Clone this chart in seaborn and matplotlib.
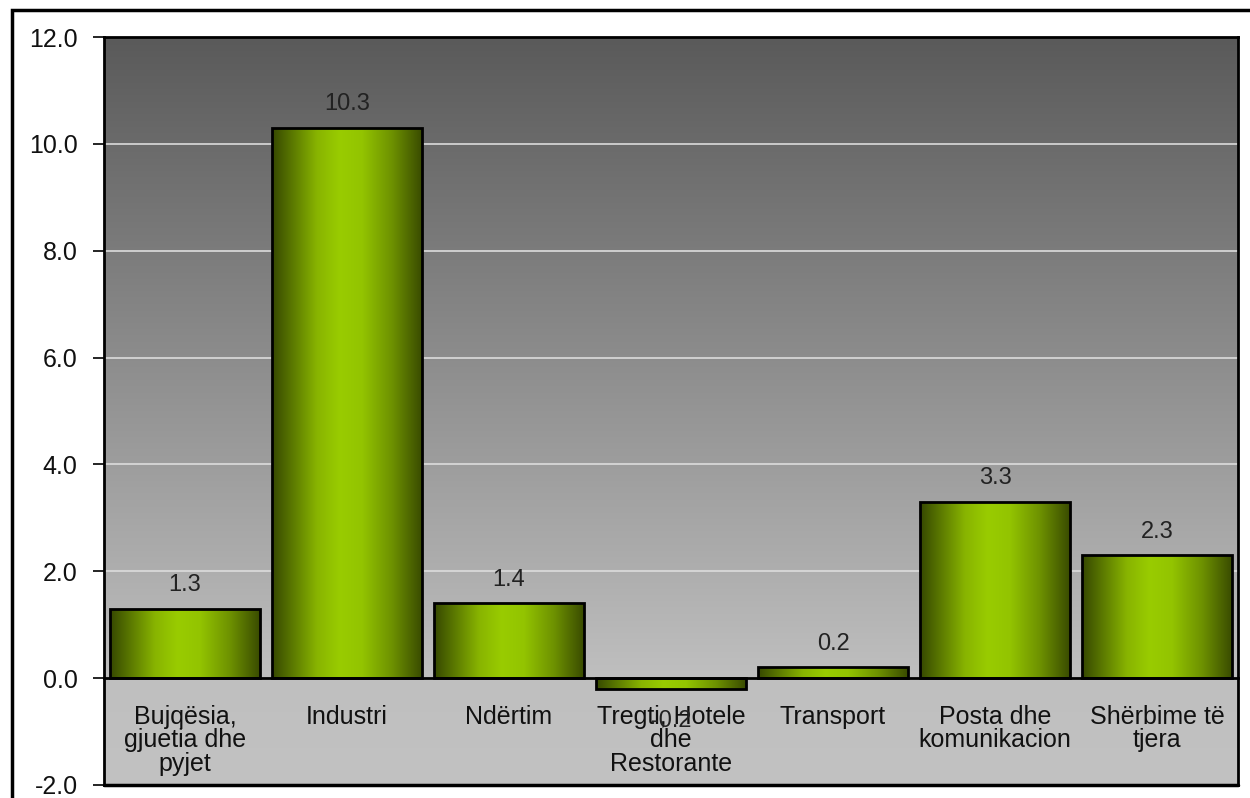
import numpy as np
import pandas as pd
import matplotlib
matplotlib.use('Agg')
import matplotlib.pyplot as plt
from matplotlib.colors import LinearSegmentedColormap
from matplotlib.patches import Rectangle
from matplotlib.ticker import FixedLocator
import seaborn as sns

# data
sectors = ['Bujqësia,\ngjuetia dhe\npyjet', 'Industri', 'Ndërtim',
           'Tregti, Hotele\ndhe\nRestorante', 'Transport',
           'Posta dhe\nkomunikacion', 'Shërbime të\ntjera']
growth = [1.3, 10.3, 1.4, -0.2, 0.2, 3.3, 2.3]
yticks = [-2.0, 0.0, 2.0, 4.0, 6.0, 8.0, 10.0, 12.0]

sns.set_theme(style='white')
plt.rcParams['font.family'] = ['Liberation Sans', 'DejaVu Sans']

df = pd.DataFrame({'Sector': sectors, 'Growth': growth})

fig = plt.figure(figsize=(12.5, 7.98), dpi=100)
ax = fig.add_axes([0.0832, 0.0163, 0.9072, 0.9373])

# grey gradient background of the plot area (light below zero, dark at top)
bg = LinearSegmentedColormap.from_list(
    'bg', [(0, '#c2c2c2'), (2 / 14, '#bfbfbf'), (1, '#5a5a5a')])
ax.imshow(np.linspace(0, 1, 256).reshape(-1, 1), cmap=bg, origin='lower',
          aspect='auto', extent=[0, 1, 0, 1], transform=ax.transAxes, zorder=0)

sns.barplot(data=df, x='Sector', y='Growth', ax=ax, width=0.92,
            color='#99cc00', edgecolor='black', linewidth=2, zorder=3)

# horizontal green gradient inside each bar
green = LinearSegmentedColormap.from_list(
    'green', [(0, '#364800'), (0.3, '#88b400'), (0.45, '#99cc00'),
              (0.6, '#93c400'), (0.8, '#6e9200'), (1, '#3a4c00')])
grad = np.linspace(0, 1, 256).reshape(1, -1)
for p in ax.patches:
    x0, y0 = p.get_x(), p.get_y()
    w, h = p.get_width(), p.get_height()
    im = ax.imshow(grad, cmap=green, aspect='auto',
                   extent=[x0, x0 + w, min(y0, y0 + h), max(y0, y0 + h)],
                   zorder=3.5)
    im.set_clip_path(p)
    p.set_facecolor('none')
    p.set_zorder(4)

ax.set_xlim(-0.5, len(sectors) - 0.5)
ax.set_ylim(-2, 12)
ax.set_yticks(yticks)
ax.set_yticklabels([f'{v:.1f}' for v in yticks], fontsize=18, color='#111111')

for v in yticks[2:-1]:
    ax.axhline(v, color='#dcdcdc', lw=1.2, zorder=1)

# value labels
for i, v in enumerate(growth):
    if v >= 0:
        ax.annotate(f'{v:.1f}', (i, v), xytext=(0, 9), textcoords='offset points',
                    ha='center', va='bottom', fontsize=17, color='#222222', zorder=6)
    else:
        ax.annotate(f'{v:.1f}', (i, v), xytext=(0, -15), textcoords='offset points',
                    ha='center', va='top', fontsize=17, color='#222222', zorder=6)

# category axis sits on zero
ax.spines['bottom'].set_position(('data', 0))
ax.set_xticks(range(len(sectors)))
ax.set_xticklabels(sectors, fontsize=18, color='#111111', linespacing=0.98)
ax.xaxis.set_minor_locator(FixedLocator(np.arange(0.5, len(sectors) - 0.5, 1)))
ax.tick_params(axis='x', which='major', length=0, pad=19)
ax.tick_params(axis='x', which='minor', length=6, width=1.2, color='black', direction='out')
ax.tick_params(axis='y', length=8, width=1.2, color='black', direction='out', left=True, pad=11)
ax.set_xlabel('')
ax.set_ylabel('')

for s in ax.spines.values():
    s.set_color('black')
    s.set_linewidth(2)
    s.set_visible(True)
ax.spines['bottom'].set_zorder(5)
ax.axhline(-2, color='black', lw=2.5, clip_on=False, zorder=6)

# outer chart frame
fig.add_artist(Rectangle((12 / 1250, -0.1), 1.2, 1 - 10 / 798 + 0.1,
                         transform=fig.transFigure, fill=False,
                         edgecolor='black', lw=2.5))

fig.savefig('out.png', dpi=100)
